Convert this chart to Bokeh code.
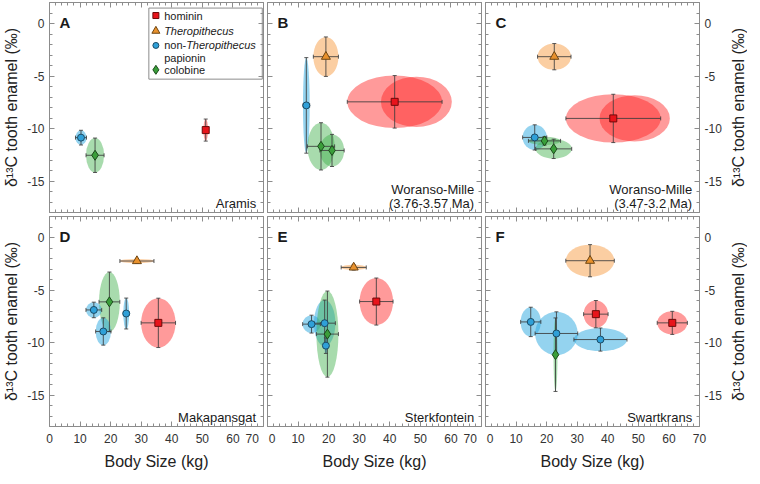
import math
from bokeh.plotting import figure
from bokeh.layouts import gridplot
from bokeh.models import Range1d, LinearAxis, SingleIntervalTicker, ColumnDataSource, Title
from bokeh.core.properties import value
from bokeh.embed import file_html
from bokeh.resources import INLINE

FONT = "Liberation Sans"
FW, FH = 214, 210
GRAY = "#8c8c8c"
BAR = "#3c3c3c"

# ---------------- data (body size kg, SD; d13C permil, SD) ----------------
a_group = ["hom", "papio", "colob"]
a_mass = [51.1, 10.3, 14.9]
a_mass_sd = [0.75, 1.8, 2.95]
a_d13c = [-10.15, -10.87, -12.55]
a_d13c_sd = [1.05, 0.7, 1.64]

b_group = ["thero", "papio", "colob", "colob", "hom"]
b_mass = [19.1, 12.7, 17.5, 21.1, 41.6]
b_mass_sd = [4.1, 1.1, 4.45, 3.97, 15.5]
b_d13c = [-3.16, -7.8, -11.7, -12.09, -7.46]
b_d13c_sd = [1.88, 4.55, 2.25, 1.53, 2.5]
b_alt_mass = [48.7]
b_alt_mass_sd = [11.6]
b_alt_d13c = [-7.46]
b_alt_d13c_sd = [2.4]

c_group = ["thero", "papio", "colob", "colob", "hom"]
c_mass = [22.5, 16.1, 19.3, 22.3, 41.8]
c_mass_sd = [5.47, 3.95, 5.25, 5.9, 15.5]
c_d13c = [-3.16, -10.85, -11.18, -11.94, -9.04]
c_d13c_sd = [1.25, 1.2, 0.4, 0.92, 2.3]
c_alt_mass = [48.8]
c_alt_mass_sd = [11.5]
c_alt_d13c = [-9.04]
c_alt_d13c_sd = [2.2]

d_group = ["thero", "colob", "papio", "papio", "papio", "hom"]
d_mass = [28.6, 19.6, 14.5, 17.6, 25.1, 35.6]
d_mass_sd = [5.57, 3.4, 2.57, 2.5, 0.96, 5.63]
d_d13c = [-2.24, -6.13, -6.9, -8.95, -7.24, -8.13]
d_d13c_sd = [0.2, 2.84, 0.74, 1.3, 1.47, 2.35]

e_group = ["thero", "hom", "papio", "papio", "colob", "papio"]
e_mass = [28.2, 35.6, 14.4, 18.7, 19.6, 19.1]
e_mass_sd = [4.1, 5.47, 2.9, 3.5, 3.6, 0.5]
e_d13c = [-2.85, -6.1, -8.25, -8.16, -9.2, -10.3]
e_d13c_sd = [0.25, 2.24, 0.85, 2.2, 4.1, 0.74]

f_group = ["thero", "hom", "hom", "papio", "papio", "papio", "colob"]
f_mass = [34.2, 36.1, 61.1, 14.8, 23.2, 37.6, 22.9]
f_mass_sd = [7.93, 4.0, 4.93, 3.3, 6.97, 8.68, 0.64]
f_d13c = [-2.21, -7.3, -8.13, -8.04, -9.14, -9.72, -11.16]
f_d13c_sd = [1.53, 1.3, 1.1, 1.4, 2.06, 1.1, 3.5]

x_ticks = [0, 10, 20, 30, 40, 50, 60, 70]
y_ticks = [-15, -10, -5, 0]
Y_TITLE = "δ¹³C tooth enamel (‰)"
X_TITLE = "Body Size (kg)"

STYLE = {
    "hom":   dict(marker="square",   size=7,  fill="#E8141B", line="#6E0A0A", ell="#FF2020", ea=0.45),
    "thero": dict(marker="triangle", size=9,  fill="#E8912D", line="#6E4512", ell="#F7A555", ea=0.55),
    "papio": dict(marker="circle",   size=7,  fill="#2FA0D8", line="#1A4B66", ell="#29A8E0", ea=0.5),
    "colob": dict(marker="diamond",  size=10, fill="#3A9E3A", line="#1A4A1A", ell="#3DAF4A", ea=0.45),
}


def style_axis(ax, labeled, dim, title=None, overrides=None):
    ax.ticker = SingleIntervalTicker(interval=10 if dim == "x" else 5, num_minor_ticks=5)
    ax.axis_line_color = None
    ax.major_tick_in = 5
    ax.major_tick_out = 0
    ax.minor_tick_in = 3
    ax.minor_tick_out = 0
    ax.major_tick_line_color = GRAY
    ax.minor_tick_line_color = GRAY
    if labeled:
        ax.major_label_text_font = FONT
        ax.major_label_text_font_size = "12px"
        ax.major_label_text_color = "#333333"
        ax.major_label_standoff = 5
        if overrides:
            ax.major_label_overrides = overrides
        if title:
            ax.axis_label = title
            ax.axis_label_text_font = FONT
            ax.axis_label_text_font_size = "16px"
            ax.axis_label_text_font_style = "normal"
            ax.axis_label_text_color = "#222222"
            ax.axis_label_standoff = 4
    else:
        ax.major_label_text_font_size = "0px"
        ax.major_label_standoff = 0
        ax.major_label_overrides = {t: "" for t in (x_ticks if dim == "x" else y_ticks)}


def panel(letter, sites, group, mass, mass_sd, d13c, d13c_sd, alt=None,
          left=False, right=False, bottom=False, xover=None, legend=False):
    p = figure(frame_width=FW, frame_height=FH, x_range=Range1d(0, 70), y_range=Range1d(-18, 2),
               output_backend="svg", toolbar_location=None,
               x_axis_location=None, y_axis_location=None,
               min_border_left=2, min_border_right=28 if right else 2,
               min_border_top=2, min_border_bottom=2)
    p.grid.visible = False
    p.outline_line_color = GRAY
    p.outline_line_width = 1
    p.background_fill_color = "white"
    p.border_fill_color = "white"

    ylab = {t: str(t) for t in y_ticks}
    ax = LinearAxis(); style_axis(ax, left, "y", Y_TITLE if left else None, ylab); p.add_layout(ax, "left")
    ax = LinearAxis(); style_axis(ax, right, "y", None, ylab); p.add_layout(ax, "right")
    ax = LinearAxis(); style_axis(ax, False, "x"); p.add_layout(ax, "above")
    xl = {t: str(t) for t in x_ticks}
    if xover:
        xl.update(xover)
    ax = LinearAxis(); style_axis(ax, bottom, "x", X_TITLE if bottom else None, xl); p.add_layout(ax, "below")

    # legend box (drawn first in panel A)
    if legend:
        p.quad(left=[32.5], right=[69.6], top=[1.47], bottom=[-5.3], fill_color="white",
               line_color=GRAY, line_width=1)

    st = [STYLE[g] for g in group]
    src = ColumnDataSource(dict(
        x=mass, y=d13c,
        w=[2 * s for s in mass_sd], h=[2 * s for s in d13c_sd],
        xlo=[m - s for m, s in zip(mass, mass_sd)], xhi=[m + s for m, s in zip(mass, mass_sd)],
        ylo=[m - s for m, s in zip(d13c, d13c_sd)], yhi=[m + s for m, s in zip(d13c, d13c_sd)],
        ell=[s["ell"] for s in st], ea=[s["ea"] for s in st],
        marker=[s["marker"] for s in st], size=[s["size"] for s in st],
        fill=[s["fill"] for s in st], line=[s["line"] for s in st],
    ))
    if alt is not None:
        am, asd, ad, adsd = alt
        p.ellipse(x=am, y=ad, width=[2 * s for s in asd], height=[2 * s for s in adsd],
                  fill_color=STYLE["hom"]["ell"], fill_alpha=STYLE["hom"]["ea"], line_color=None)
    p.ellipse(x="x", y="y", width="w", height="h", fill_color="ell", fill_alpha="ea",
              line_color=None, source=src)
    # error bars
    p.segment(x0="xlo", y0="y", x1="xhi", y1="y", line_color=BAR, line_alpha=0.85, line_width=1, source=src)
    p.segment(x0="x", y0="ylo", x1="x", y1="yhi", line_color=BAR, line_alpha=0.85, line_width=1, source=src)
    p.scatter(x="xlo", y="y", marker="dash", size=4, angle=math.pi / 2, line_color=BAR, line_alpha=0.85, source=src)
    p.scatter(x="xhi", y="y", marker="dash", size=4, angle=math.pi / 2, line_color=BAR, line_alpha=0.85, source=src)
    p.scatter(x="x", y="ylo", marker="dash", size=4, line_color=BAR, line_alpha=0.85, source=src)
    p.scatter(x="x", y="yhi", marker="dash", size=4, line_color=BAR, line_alpha=0.85, source=src)
    # markers
    p.scatter(x="x", y="y", marker="marker", size="size", fill_color="fill", line_color="line",
              line_width=1, source=src)

    # panel letter
    p.text(x=[3.3], y=[0.05], text=[letter], text_font=value(FONT), text_font_size="15px",
           text_font_style="bold", text_color="#1a1a1a", text_baseline="alphabetic", text_align="left")
    # site label
    ys = [-17.15] if len(sites) == 1 else [-15.85, -17.15]
    p.text(x=[67.6] * len(sites), y=ys, text=sites, text_font=value(FONT), text_font_size="13px",
           text_color="#1a1a1a", text_baseline="alphabetic", text_align="right")

    if legend:
        lx, tx = 34.8, 37.5
        ly = {"hom": 0.76, "thero": -0.71, "papio": -2.09, "colob": -4.41}
        for g in ["hom", "thero", "papio", "colob"]:
            s = STYLE[g]
            p.scatter(x=[lx], y=[ly[g]], marker=s["marker"], size=s["size"] - 1,
                      fill_color=s["fill"], line_color=s["line"])
        kw = dict(text_font=value(FONT), text_font_size="11px", text_color="#1a1a1a",
                  text_baseline="middle", text_align="left")
        p.text(x=[tx, tx, tx, tx], y=[ly["hom"], ly["papio"], -3.31, ly["colob"]],
               text=["hominin", "non-", "papionin", "colobine"], **kw)
        kw["text_font_style"] = "italic"
        p.text(x=[tx, tx + 7.2], y=[ly["thero"], ly["papio"]],
               text=["Theropithecus", "Theropithecus"], **kw)
    return p


def title_strip(bottom_border):
    # narrow holder for the right-hand y title, reading bottom-to-top like the left one
    t = figure(frame_width=1, frame_height=FH, x_range=Range1d(0, 1), y_range=Range1d(0, 1),
               output_backend="svg", toolbar_location=None, x_axis_location=None, y_axis_location=None,
               min_border_left=0, min_border_right=0, min_border_top=2, min_border_bottom=bottom_border)
    t.grid.visible = False
    t.outline_line_color = None
    t.background_fill_color = "white"
    t.border_fill_color = "white"
    t.add_layout(Title(text=Y_TITLE, align="center", text_font=FONT, text_font_size="16px",
                       text_font_style="normal", text_color="#222222", standoff=0, offset=0), "left")
    return t


NB = "\u00a0"
pa = panel("A", ["Aramis"], a_group, a_mass, a_mass_sd, a_d13c, a_d13c_sd, left=True, legend=True)
pb = panel("B", ["Woranso-Mille", "(3.76-3.57 Ma)"], b_group, b_mass, b_mass_sd, b_d13c, b_d13c_sd,
           alt=(b_alt_mass, b_alt_mass_sd, b_alt_d13c, b_alt_d13c_sd))
pc = panel("C", ["Woranso-Mille", "(3.47-3.2 Ma)"], c_group, c_mass, c_mass_sd, c_d13c, c_d13c_sd,
           alt=(c_alt_mass, c_alt_mass_sd, c_alt_d13c, c_alt_d13c_sd), right=True)
pd = panel("D", ["Makapansgat"], d_group, d_mass, d_mass_sd, d_d13c, d_d13c_sd, left=True, bottom=True,
           xover={70: "70" + NB * 2})
pe = panel("E", ["Sterkfontein"], e_group, e_mass, e_mass_sd, e_d13c, e_d13c_sd, bottom=True,
           xover={0: NB + "0", 70: "70" + NB * 2})
pf = panel("F", ["Swartkrans"], f_group, f_mass, f_mass_sd, f_d13c, f_d13c_sd, right=True, bottom=True,
           xover={0: NB + "0"})
tc = title_strip(2)
tf = title_strip(44)

grid = gridplot([[pa, pb, pc, tc], [pd, pe, pf, tf]], toolbar_location=None)
open("out.html", "w").write(file_html(grid, INLINE))
